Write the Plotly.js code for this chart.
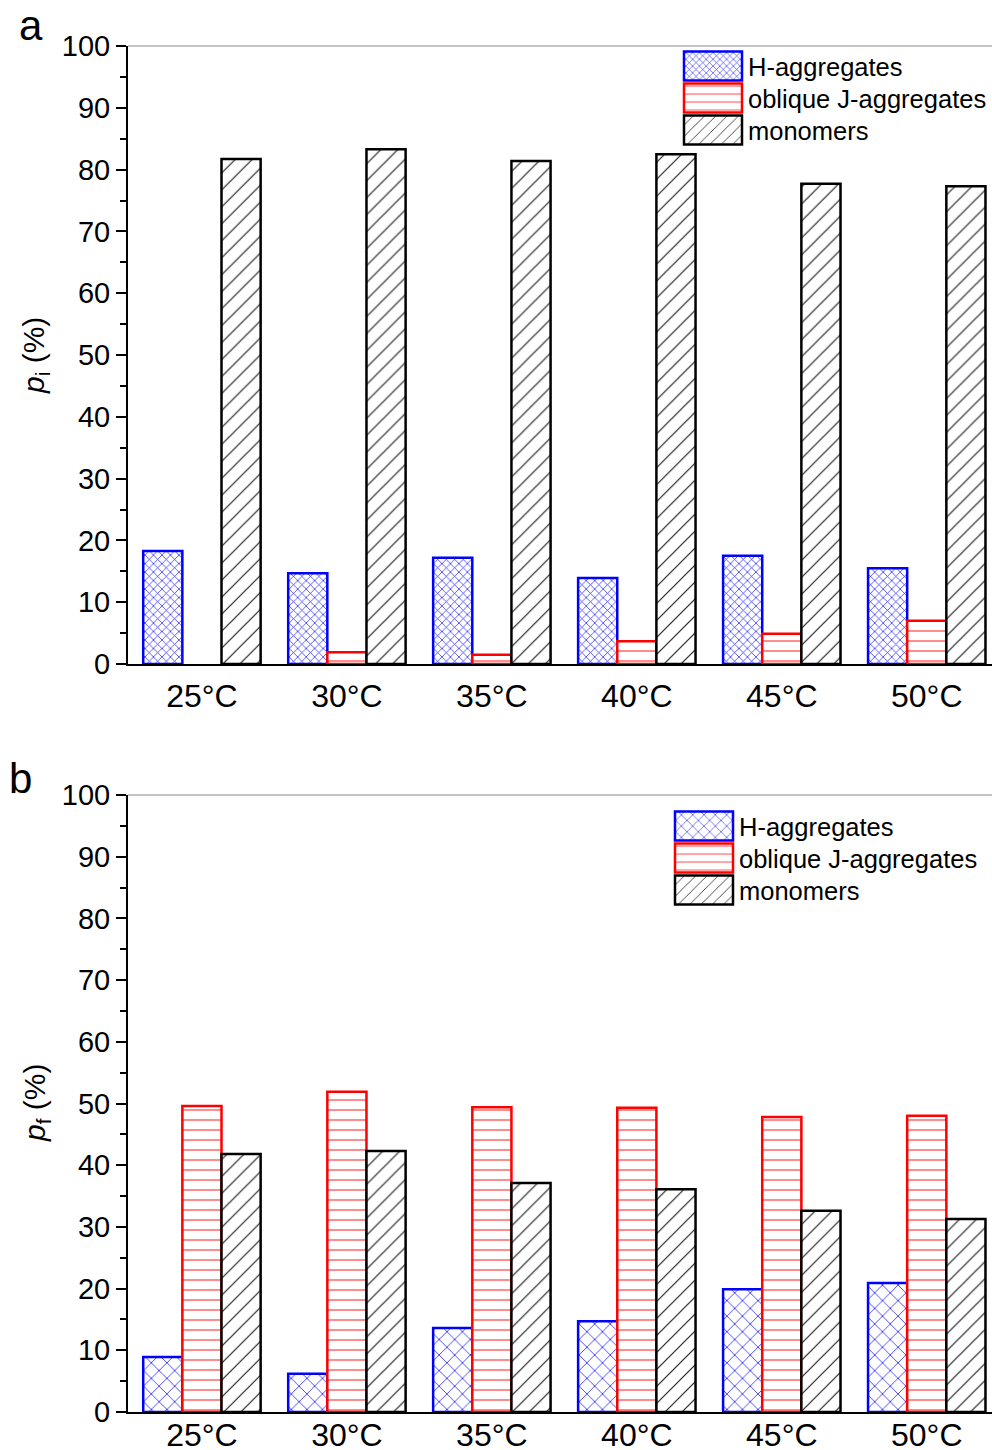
<!DOCTYPE html>
<html>
<head>
<meta charset="utf-8">
<script src="https://cdn.plot.ly/plotly-3.0.1.min.js"></script>
<style>html,body{margin:0;padding:0;background:#fff;}#chart{width:992px;height:1450px;}</style>
</head>
<body>
<div id="chart"></div>
<script>
// ---- data ----
const categories = ["25°C", "30°C", "35°C", "40°C", "45°C", "50°C"];
const seriesNames = ["H-aggregates", "oblique J-aggregates", "monomers"];
// panel a : p_i (%)  (no J-aggregate bar at 25°C)
const hAggA = [18.3, 14.7, 17.2, 13.9, 17.5, 15.5];
const jAggA = [null, 1.9, 1.5, 3.7, 4.9, 7.0];
const monoA = [81.7, 83.3, 81.4, 82.5, 77.7, 77.3];
// panel b : p_f (%)
const hAggB = [8.9, 6.2, 13.6, 14.7, 19.9, 20.9];
const jAggB = [49.6, 51.9, 49.4, 49.3, 47.8, 48.0];
const monoB = [41.8, 42.3, 37.1, 36.1, 32.6, 31.3];
const yTicks = [0, 10, 20, 30, 40, 50, 60, 70, 80, 90, 100];

const FONT = "Liberation Sans, Arial, sans-serif";
const W = 992, H = 1450;

function mk(name, y, xa, ya, leg, lineColor, fg, shape, size, sol) {
  return {
    type: "bar", name: name, x: categories, y: y, xaxis: xa, yaxis: ya, legend: leg,
    marker: {
      color: "white",
      line: {color: lineColor, width: 2.5},
      pattern: {shape: shape, fgcolor: fg, bgcolor: "white", size: size, solidity: sol}
    }
  };
}

const data = [
  mk(seriesNames[0], hAggA, "x", "y", "legend", "#0000ff", "#1a1aff", "x", 6, 0.22),
  mk(seriesNames[1], jAggA, "x", "y", "legend", "#ff0000", "#ff4040", "-", 10, 0.12),
  mk(seriesNames[2], monoA, "x", "y", "legend", "#000000", "#202020", "/", 12, 0.1),
  mk(seriesNames[0], hAggB, "x2", "y2", "legend2", "#0000ff", "#2020ff", "x", 11, 0.14),
  mk(seriesNames[1], jAggB, "x2", "y2", "legend2", "#ff0000", "#ff4040", "-", 10, 0.12),
  mk(seriesNames[2], monoB, "x2", "y2", "legend2", "#000000", "#202020", "/", 12, 0.1)
];

function px2fx(p) { return p / W; }
function py2fy(p) { return 1 - p / H; }

const xCommon = {
  type: "category", range: [-0.51, 5.45], domain: [px2fx(128), 1],
  showline: true, linecolor: "black", linewidth: 2, ticks: "", showgrid: false,
  zeroline: false, tickfont: {family: FONT, size: 32, color: "black"}, automargin: false, fixedrange: true
};
const yCommon = {
  range: [0, 100], tickvals: yTicks, showline: true, linecolor: "black", linewidth: 2,
  ticks: "outside", ticklen: 10, tickwidth: 2, tickcolor: "black", showgrid: false, zeroline: false,
  minor: {dtick: 5, ticks: "outside", ticklen: 6, tickwidth: 2, tickcolor: "black", showgrid: false},
  tickfont: {family: FONT, size: 29, color: "black"}, automargin: false, fixedrange: true
};

const legFont = {family: FONT, size: 25.5, color: "black"};
const layout = {
  width: W, height: H, margin: {l: 0, r: 0, t: 0, b: 0},
  paper_bgcolor: "white", plot_bgcolor: "white",
  barmode: "group", bargap: 0.19, bargroupgap: 0,
  font: {family: FONT, color: "black"},
  xaxis: Object.assign({}, xCommon, {anchor: "y", ticklabelstandoff: 3}),
  yaxis: Object.assign({}, yCommon, {anchor: "x", domain: [py2fy(664), py2fy(46)]}),
  xaxis2: Object.assign({}, xCommon, {anchor: "y2", ticklabelstandoff: -6}),
  yaxis2: Object.assign({}, yCommon, {anchor: "x2", domain: [py2fy(1412), py2fy(795)]}),
  legend: {x: px2fx(678), y: py2fy(43), xanchor: "left", yanchor: "top", bgcolor: "rgba(0,0,0,0)",
           font: legFont, itemwidth: 60, tracegroupgap: 0, traceorder: "normal"},
  legend2: {x: px2fx(669), y: py2fy(803), xanchor: "left", yanchor: "top", bgcolor: "rgba(0,0,0,0)",
           font: legFont, itemwidth: 60, tracegroupgap: 0, traceorder: "normal"},
  shapes: [
    {type: "line", xref: "paper", yref: "paper", x0: px2fx(128), x1: 1, y0: py2fy(46), y1: py2fy(46), line: {color: "#888", width: 1}},
    {type: "line", xref: "paper", yref: "paper", x0: px2fx(128), x1: 1, y0: py2fy(795), y1: py2fy(795), line: {color: "#888", width: 1}}
  ],
  annotations: [
    {text: "a", xref: "paper", yref: "paper", x: px2fx(31), y: py2fy(25), xanchor: "center", yanchor: "middle", showarrow: false, font: {family: FONT, size: 42, color: "black"}},
    {text: "b", xref: "paper", yref: "paper", x: px2fx(20), y: py2fy(778), xanchor: "center", yanchor: "middle", showarrow: false, font: {family: FONT, size: 42, color: "black"}},
    {text: "<i>p</i><sub>i</sub> (%)", xref: "paper", yref: "paper", x: px2fx(36), y: py2fy(356), xanchor: "center", yanchor: "middle", textangle: -90, showarrow: false, font: {family: FONT, size: 30, color: "black"}},
    {text: "<i>p</i><sub>f</sub> (%)", xref: "paper", yref: "paper", x: px2fx(36), y: py2fy(1103), xanchor: "center", yanchor: "middle", textangle: -90, showarrow: false, font: {family: FONT, size: 30, color: "black"}}
  ]
};

Plotly.newPlot("chart", data, layout, {staticPlot: true}).then(function (gd) {
  document.querySelectorAll(".legendpoints path").forEach(function (p) {
    p.setAttribute("d", "M-29,-14.5H29V14.5H-29Z");
  });
  document.querySelectorAll(".scrollbox").forEach(function (box) {
    const items = box.querySelectorAll("g.traces");
    if (!items.length) return;
    const m = /translate\(\s*([-\d.]+)[ ,]+([-\d.]+)\s*\)/.exec(items[0].getAttribute("transform") || "");
    if (!m) return;
    const x0 = parseFloat(m[1]), y0 = parseFloat(m[2]);
    items.forEach(function (it, i) {
      it.setAttribute("transform", "translate(" + x0 + "," + (y0 + 32 * i) + ")");
    });
  });
});
</script>
</body>
</html>
